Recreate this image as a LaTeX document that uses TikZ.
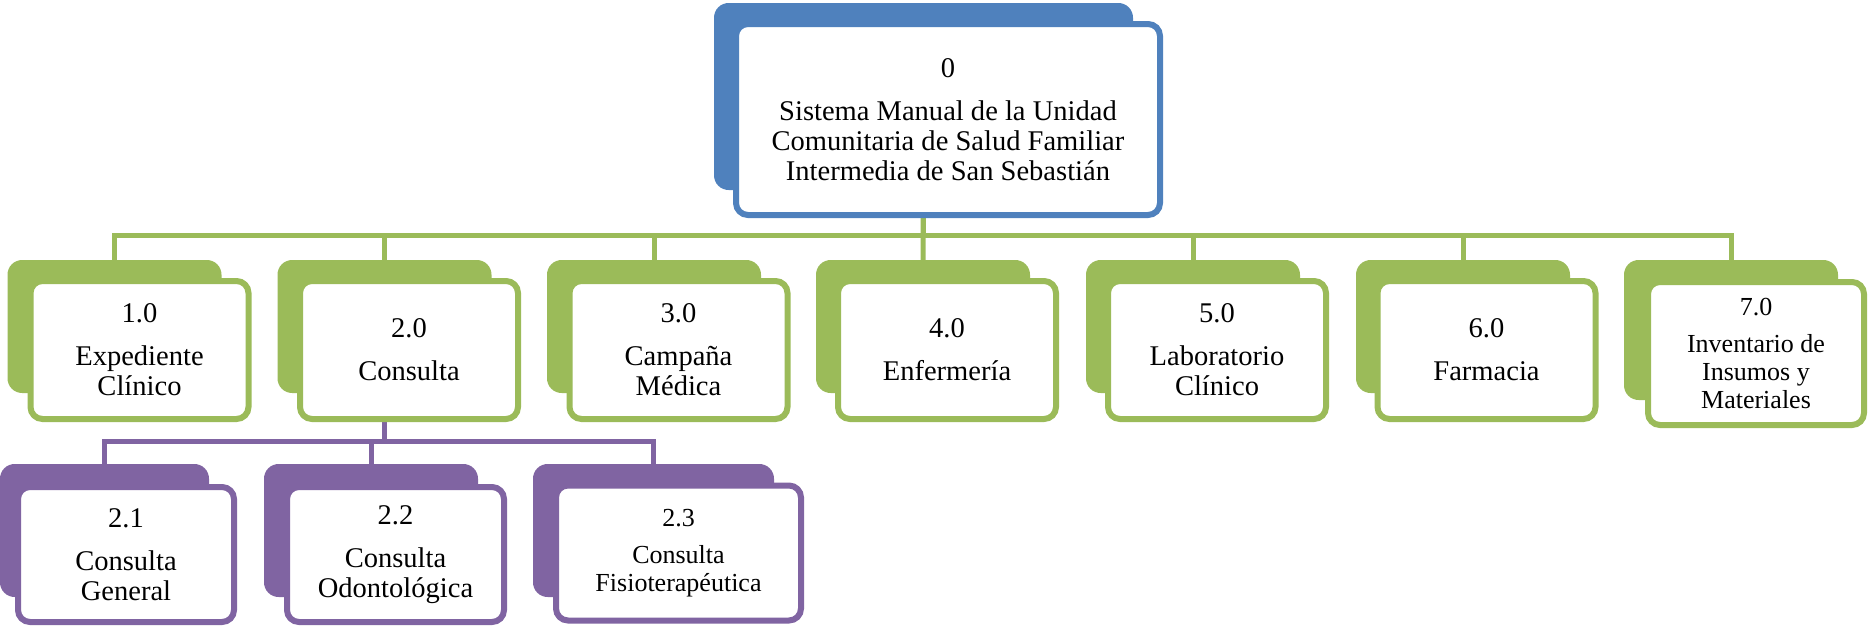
\documentclass[tikz,border=0pt]{standalone}
\usepackage{fontspec}
\setmainfont{Liberation Serif}
\usetikzlibrary{backgrounds}

\definecolor{azul}{HTML}{4F81BD}
\definecolor{verde}{HTML}{9BBB59}
\definecolor{morado}{HTML}{8064A2}

\tikzset{
    fondo/.style={fill=#1, rounded corners=11pt, minimum width=160.5pt, minimum height=99.75pt, inner sep=0pt, outer sep=0pt},
    caja/.style={draw=#1, fill=white, line width=4.5pt, rounded corners=9pt, minimum width=163.5pt, minimum height=103.5pt, align=center, inner sep=0pt, outer sep=0pt, font=\fontsize{21.4}{22.5}\selectfont},
    chico/.style={font=\fontsize{19.5}{21}\selectfont},
    enlace/.style={draw=#1, line width=3.75pt}
}

\begin{document}
\begin{tikzpicture}[x=0.75pt, y=-0.75pt]
    \useasboundingbox (0,0) rectangle (1868,628);
    \coordinate (bv) at (0,235);
    \coordinate (bm) at (0,441);
    % nivel 0
    \node[fondo=azul, minimum width=314.25pt, minimum height=140.25pt] (f0) at (923.5,96.5) {};
    \node[caja=azul, minimum width=318pt, minimum height=143.25pt] (c0) at (948,119.5) {0\\[9.75pt]Sistema Manual de la Unidad\\Comunitaria de Salud Familiar\\Intermedia de San Sebastián};
    % nivel 1
    \node[fondo=verde] (f1) at (114.5,326.5) {};
    \node[caja=verde] (c1) at (139.5,350) {1.0\\[9.75pt]Expediente\\Clínico};
    \node[fondo=verde] (f2) at (384.5,326.5) {};
    \node[caja=verde] (c2) at (409,350) {2.0\\[9.75pt]Consulta};
    \node[fondo=verde] (f3) at (654,326.5) {};
    \node[caja=verde] (c3) at (678.5,350) {3.0\\[9.75pt]Campaña\\Médica};
    \node[fondo=verde] (f4) at (923,326.5) {};
    \node[caja=verde] (c4) at (947,350) {4.0\\[9.75pt]Enfermería};
    \node[fondo=verde] (f5) at (1193,326.5) {};
    \node[caja=verde] (c5) at (1217,350) {5.0\\[9.75pt]Laboratorio\\Clínico};
    \node[fondo=verde] (f6) at (1463,326.5) {};
    \node[caja=verde] (c6) at (1486.5,350) {6.0\\[9.75pt]Farmacia};
    \node[fondo=verde, minimum height=105pt] (f7) at (1731,330) {};
    \node[caja=verde, chico, minimum width=162pt, minimum height=107.25pt] (c7) at (1756,353.5) {7.0\\[7pt]Inventario de\\Insumos y\\Materiales};
    % nivel 2
    \node[fondo=morado, minimum width=156.75pt] (f21) at (104.5,530.5) {};
    \node[caja=morado, minimum width=162pt, minimum height=101.25pt] (c21) at (126,554.5) {2.1\\[9.75pt]Consulta\\General};
    \node[fondo=morado] (f22) at (371,530.5) {};
    \node[caja=morado, minimum width=162.75pt, minimum height=101.25pt] (c22) at (395.5,554.5) {2.2\\[9.75pt]Consulta\\Odontológica};
    \node[fondo=morado, minimum width=180.75pt] (f23) at (653.5,530.5) {};
    \node[caja=morado, chico, minimum width=183.75pt, minimum height=101.25pt] (c23) at (678.5,553) {2.3\\[7pt]Consulta\\Fisioterapéutica};

    \begin{scope}[on background layer]
        \draw[enlace=verde] (f0.center) |- (f1.center |- bv) -- (f1.center);
        \draw[enlace=verde] (f0.center) |- (f2.center |- bv) -- (f2.center);
        \draw[enlace=verde] (f0.center) |- (f3.center |- bv) -- (f3.center);
        \draw[enlace=verde] (f0.center) -- (f4.center);
        \draw[enlace=verde] (f0.center) |- (f5.center |- bv) -- (f5.center);
        \draw[enlace=verde] (f0.center) |- (f6.center |- bv) -- (f6.center);
        \draw[enlace=verde] (f0.center) |- (f7.center |- bv) -- (f7.center);
        \draw[enlace=morado] (f2.center) |- (f21.center |- bm) -- (f21.center);
        \draw[enlace=morado] (f2.center) |- (f22.center |- bm) -- (f22.center);
        \draw[enlace=morado] (f2.center) |- (f23.center |- bm) -- (f23.center);
    \end{scope}
\end{tikzpicture}
\end{document}
